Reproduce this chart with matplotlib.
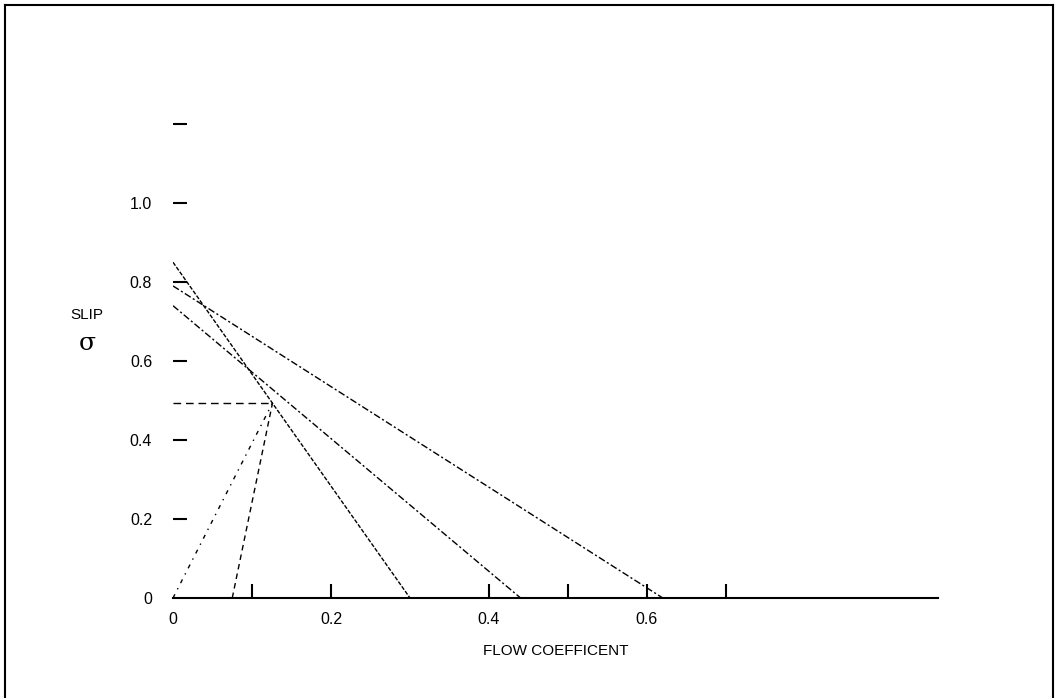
import matplotlib
matplotlib.use("Agg")
import matplotlib.pyplot as plt
from matplotlib.lines import Line2D

plt.rcParams['font.family'] = ['Liberation Sans', 'DejaVu Sans']

# slip lines: sigma at zero flow -> flow coefficient at zero slip
line_a_x = [0.0, 0.30]
line_a_y = [0.85, 0.0]
line_b_x = [0.0, 0.62]
line_b_y = [0.79, 0.0]
line_c_x = [0.0, 0.44]
line_c_y = [0.74, 0.0]

# operating point and construction lines
op_x = 0.126
op_y = 0.494
ray1_x = [0.0, op_x]
ray1_y = [0.0, op_y]
ray2_x = [0.075, op_x]
ray2_y = [0.0, op_y]
level_x = [0.0, op_x]
level_y = [op_y, op_y]

xtick_marks = [0.1, 0.2, 0.4, 0.5, 0.6, 0.7]
xtick_vals = [0.0, 0.2, 0.4, 0.6]
xtick_labels = ['0', '0.2', '0.4', '0.6']
ytick_marks = [0.2, 0.4, 0.6, 0.8, 1.0, 1.2]
ytick_vals = [0.0, 0.2, 0.4, 0.6, 0.8, 1.0, 1.2]
ytick_labels = ['0', '0.2', '0.4', '0.6', '0.8', '1.0', '']

W, H = 1059, 698
fig = plt.figure(figsize=(W / 100, H / 100), dpi=100)
# axes placed so x=0 is at px 173, y=0 at px 598
ax = fig.add_axes([173 / W, 100 / H, 765 / W, 513.5 / H])
ax.set_xlim(0, 765 / 790)
ax.set_ylim(0, 513.5 / 395)

lw = 1.0
ax.plot(line_a_x, line_a_y, color='black', lw=lw, dashes=(3, 1.2))
ax.plot(line_b_x, line_b_y, color='black', lw=lw, dashes=(5, 1.8, 1.5, 1.8))
ax.plot(line_c_x, line_c_y, color='black', lw=lw, dashes=(5, 1.8, 1.5, 1.8))
ax.plot(ray1_x, ray1_y, color='black', lw=lw, dashes=(3, 4, 1, 4))
ax.plot(ray2_x, ray2_y, color='black', lw=lw, dashes=(4, 3))
ax.plot(level_x, level_y, color='black', lw=lw, dashes=(5.5, 3.5))

for s in ['top', 'right', 'left']:
    ax.spines[s].set_visible(False)
ax.spines['bottom'].set_linewidth(1.5)

# keep minor tick marks even where they sit on a labelled major tick
ax.xaxis.remove_overlapping_locs = False
ax.yaxis.remove_overlapping_locs = False

ax.set_xticks(xtick_vals)
ax.set_xticklabels(xtick_labels)
ax.set_xticks(xtick_marks, minor=True)
ax.set_yticks(ytick_vals)
ax.set_yticklabels(ytick_labels)
ax.set_yticks(ytick_marks, minor=True)
ax.tick_params(axis='both', which='major', length=0, labelsize=11.5)
ax.tick_params(axis='x', which='major', pad=10)
ax.tick_params(axis='y', which='major', pad=15)
ax.tick_params(axis='both', which='minor', direction='in', length=10, width=1.5)

ax.set_xlabel('FLOW COEFFICENT', fontsize=11, labelpad=12)
fig.text(87 / W, 1 - 315 / H, 'SLIP', fontsize=11, ha='center', va='center')
fig.text(87 / W, 1 - 343 / H, 'σ', fontsize=18, ha='center', va='center',
         family=['DejaVu Serif'])

# frame around the picture (bottom edge cut off)
for xs, ys in [([5, 1053], [5, 5]), ([5, 5], [5, 698]), ([1053, 1053], [5, 698])]:
    fig.add_artist(Line2D([x / W for x in xs], [1 - y / H for y in ys],
                          color='black', lw=1.5))

fig.savefig('out.png', dpi=100)
